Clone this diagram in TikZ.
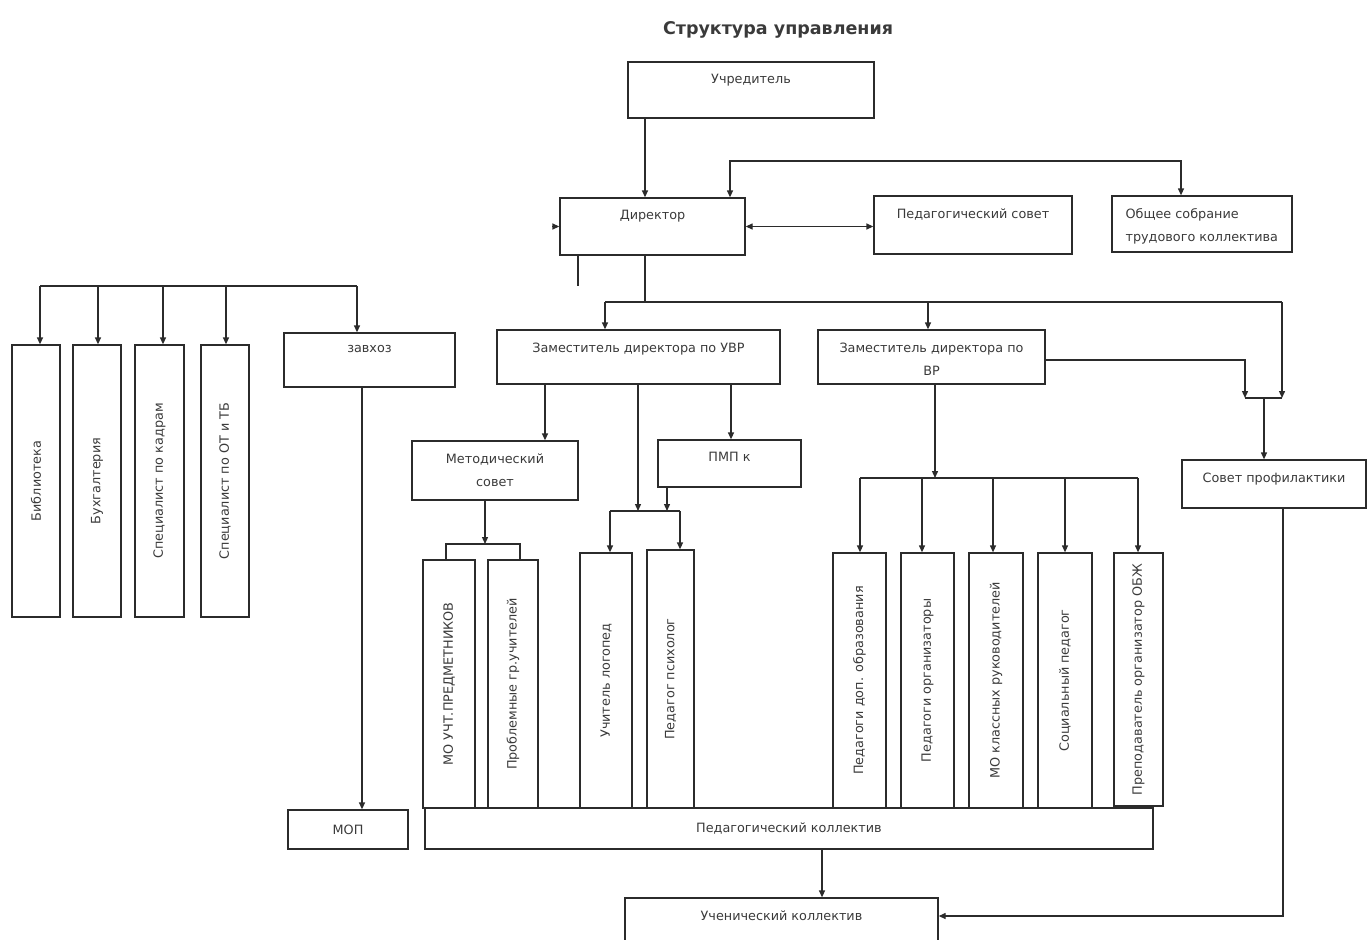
\documentclass[tikz,border=0pt]{standalone}
\usepackage{fontspec}
\setmainfont{DejaVu Sans}
\usetikzlibrary{arrows.meta,fit}
\definecolor{lc}{HTML}{2B2B2B}
\definecolor{tc}{HTML}{3A3A3A}
\newcommand{\fs}{\fontsize{12.8bp}{23bp}\selectfont}
\begin{document}
\begin{tikzpicture}[x=1bp,y=-1bp,
 box/.style={draw=lc, line width=1.3bp, inner sep=0pt},
 lab/.style={anchor=north, inner sep=0pt, yshift=-13bp, align=center, font=\fs, text=tc},
 ctxt/.style={inner sep=0pt, font=\fs, text=tc},
 vtxt/.style={inner sep=0pt, font=\fs, text=tc, rotate=90},
 ln/.style={draw=lc, line width=1.3bp},
 arr/.style={ln, -{Triangle[length=7bp,width=6bp]}},
 darr/.style={ln, {Triangle[length=7bp,width=6bp]}-{Triangle[length=7bp,width=6bp]}},
]
\useasboundingbox (0,0) rectangle (1368,939);
\node[font=\bfseries\fontsize{17.5bp}{20bp}\selectfont, text=tc] (title) at (778,30) {Структура управления};
% top level
\node[box, fit={(628,62)(874,118)}, label={[lab]north:Учредитель}] (uch) {};
\node[box, fit={(560,198)(745,255)}, label={[lab]north:Директор}] (dir) {};
\node[box, fit={(874,196)(1072,254)}, label={[lab]north:Педагогический совет}] (ps) {};
\node[box, fit={(1112,196)(1292,252)}, label={[lab, anchor=north west, xshift=14bp, align=left]north west:Общее собрание\\трудового коллектива}] (os) {};
% staff
\node[box, fit={(12,345)(60,617)}] (bib) {};
\node[box, fit={(73,345)(121,617)}] (buh) {};
\node[box, fit={(135,345)(184,617)}] (kad) {};
\node[box, fit={(201,345)(249,617)}] (ot) {};
\node[vtxt] (bibt) at (bib) {Библиотека};
\node[vtxt] (buht) at (buh) {Бухгалтерия};
\node[vtxt] (kadt) at (kad) {Специалист по кадрам};
\node[vtxt] (ott) at (ot) {Специалист по ОТ и ТБ};
\node[box, fit={(284,333)(455,387)}, label={[lab]north:завхоз}] (zav) {};
% deputies
\node[box, fit={(497,330)(780,384)}, label={[lab]north:Заместитель директора по УВР}] (uvr) {};
\node[box, fit={(818,330)(1045,384)}, label={[lab]north:Заместитель директора по\\ВР}] (vr) {};
\node[box, fit={(412,441)(578,500)}, label={[lab]north:Методический\\совет}] (met) {};
\node[box, fit={(658,440)(801,487)}, label={[lab]north:ПМП к}] (pmp) {};
\node[box, fit={(1182,460)(1366,508)}, label={[lab]north:Совет профилактики}] (sp) {};
% vertical boxes
\node[box, fit={(423,560)(475,808)}] (mo) {};
\node[box, fit={(488,560)(538,808)}] (pg) {};
\node[box, fit={(580,553)(632,808)}] (log) {};
\node[box, fit={(647,550)(694,808)}] (psy) {};
\node[box, fit={(833,553)(886,808)}] (pdo) {};
\node[box, fit={(901,553)(954,808)}] (porg) {};
\node[box, fit={(969,553)(1023,808)}] (mokl) {};
\node[box, fit={(1038,553)(1092,808)}] (soc) {};
\node[box, fit={(1114,553)(1163,806)}] (obzh) {};
\node[vtxt] (mot) at (mo) {МО УЧТ.ПРЕДМЕТНИКОВ};
\node[vtxt] (pgt) at (pg) {Проблемные гр.учителей};
\node[vtxt] (logt) at (log) {Учитель логопед};
\node[vtxt] (psyt) at (psy) {Педагог психолог};
\node[vtxt] (pdot) at (pdo) {Педагоги доп. образования};
\node[vtxt] (porgt) at (porg) {Педагоги организаторы};
\node[vtxt] (moklt) at (mokl) {МО классных руководителей};
\node[vtxt] (soct) at (soc) {Социальный педагог};
\node[vtxt] (obzht) at (obzh) {Преподаватель организатор ОБЖ};
% bottom
\node[box, fit={(425,808)(1153,849)}] (pk) {};
\node[ctxt] (pkt) at (pk) {Педагогический коллектив};
\node[box, fit={(288,810)(408,849)}] (mop) {};
\node[ctxt] (mopt) at (mop) {МОП};
\node[box, fit={(625,898)(938,950)}, label={[lab]north:Ученический коллектив}] (uk) {};
% connectors
\draw[arr] (645,0 |- uch.south) -- (645,0 |- dir.north);
\draw[darr] (730,0 |- dir.north) -- (730,161) -- (1181,161) -- (1181,0 |- os.north);
\draw[darr] (dir.east) -- (dir.east -| ps.west);
\coordinate (dl) at ([xshift=-7bp]dir.west);
\draw[arr] (dl) -- (dir.west);
% director to staff
\draw[ln] (578,0 |- dir.south) -- (578,286);
\draw[ln] (40,286) -- (357,286);
\draw[arr] (40,286) -- (40,0 |- bib.north);
\draw[arr] (98,286) -- (98,0 |- buh.north);
\draw[arr] (163,286) -- (163,0 |- kad.north);
\draw[arr] (226,286) -- (226,0 |- ot.north);
\draw[arr] (357,286) -- (357,0 |- zav.north);
% director to deputies
\draw[ln] (645,0 |- dir.south) -- (645,302);
\draw[ln] (605,302) -- (1282,302);
\draw[arr] (605,302) -- (605,0 |- uvr.north);
\draw[arr] (928,302) -- (928,0 |- vr.north);
\draw[arr] (1282,302) -- (1282,398);
\draw[arr] (vr.east |- 0,360) -- (1245,360) -- (1245,398);
\draw[ln] (1245,398) -- (1282,398);
\draw[arr] (1264,398) -- (1264,0 |- sp.north);
% UVR
\draw[arr] (545,0 |- uvr.south) -- (545,0 |- met.north);
\draw[arr] (731,0 |- uvr.south) -- (731,0 |- pmp.north);
\draw[arr] (638,0 |- uvr.south) -- (638,511);
\draw[arr] (667,0 |- pmp.south) -- (667,511);
\draw[ln] (610,511) -- (680,511);
\draw[arr] (610,511) -- (610,0 |- log.north);
\draw[arr] (680,511) -- (680,0 |- psy.north);
\draw[arr] (485,0 |- met.south) -- (485,544);
\draw[ln] (446,0 |- mo.north) -- (446,544) -- (520,544) -- (520,0 |- pg.north);
% VR
\draw[arr] (935,0 |- vr.south) -- (935,478);
\draw[ln] (860,478) -- (1138,478);
\draw[arr] (860,478) -- (860,0 |- pdo.north);
\draw[arr] (922,478) -- (922,0 |- porg.north);
\draw[arr] (993,478) -- (993,0 |- mokl.north);
\draw[arr] (1065,478) -- (1065,0 |- soc.north);
\draw[arr] (1138,478) -- (1138,0 |- obzh.north);
% bottom links
\draw[arr] (362,0 |- zav.south) -- (362,0 |- mop.north);
\draw[arr] (822,0 |- pk.south) -- (822,0 |- uk.north);
\draw[arr] (1283,0 |- sp.south) -- (1283,916) -- (uk.east |- 0,916);
\end{tikzpicture}
\end{document}
